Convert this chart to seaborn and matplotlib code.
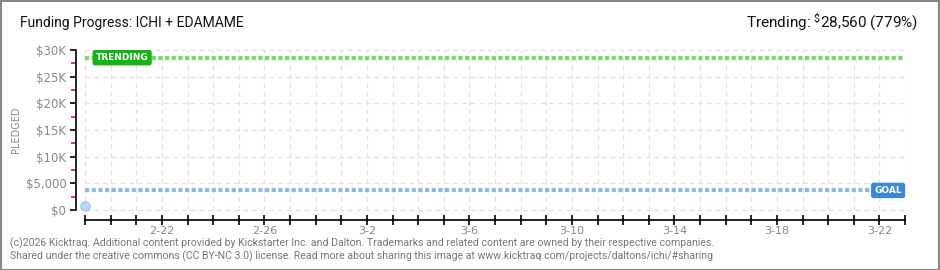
import matplotlib
matplotlib.use("Agg")
import matplotlib.pyplot as plt
import matplotlib.dates as mdates
import seaborn as sns
import pandas as pd
import numpy as np
from matplotlib.patches import Rectangle

# ---- data ----
dates = pd.to_datetime(["2026-02-19"])
pledged = [790]
goal = 3667
trending = 28560
trending_pct = 779
ytick_vals = [0, 5000, 10000, 15000, 20000, 25000, 30000]
ytick_labels = ["$0", "$5,000", "$10K", "$15K", "$20K", "$25K", "$30K"]
x_start = pd.Timestamp("2026-02-19")
x_end = pd.Timestamp("2026-03-23")
label_dates = pd.date_range("2026-02-22", "2026-03-22", freq="4D")
title = "Funding Progress: ICHI + EDAMAME"

sns.set_theme(style="white")
plt.rcParams['font.family'] = ['DejaVu Sans']
NARROW = ['Roboto', 'DejaVu Sans']

W, H = 940, 270
fig = plt.figure(figsize=(W / 100, H / 100), dpi=100)
fig.patch.set_facecolor("white")

ax_left, ax_right = 76, 905
ax_bottom, ax_top = 220, 45
ax = fig.add_axes([ax_left / W, (H - ax_bottom) / H, (ax_right - ax_left) / W, (ax_bottom - ax_top) / H])

px_per_day = 820 / 32
xoff = (85 - ax_left) / px_per_day
xs = mdates.date2num(x_start)
x0 = xs - xoff
x1 = mdates.date2num(x_end)
px_per_dollar = 160 / 30000
ylo = -(ax_bottom - 210) / px_per_dollar
yhi = 30000 + (50 - ax_top) / px_per_dollar

# grid
days = pd.date_range(x_start, x_end, freq="D")
for d in days:
    ax.plot([mdates.date2num(d)] * 2, [0, 30000], color="#e2e2e2", lw=0.9, ls=(0, (4, 3)), zorder=0)
for v in ytick_vals:
    ax.plot([xs, x1], [v, v], color="#e2e2e2", lw=0.9, ls=(0, (4, 3)), zorder=0)

# goal and trending lines
ax.plot([xs, x1], [trending, trending], color="#70e060", lw=3, ls=(0, (1, 0.6)), zorder=2)
ax.plot([xs, x1], [goal, goal], color="#90b8e4", lw=3, ls=(0, (1, 0.6)), zorder=2)

# data point
df = pd.DataFrame({"date": dates, "pledged": pledged})
sns.scatterplot(data=df, x="date", y="pledged", ax=ax, s=45, color="#bdd7f5",
                edgecolor="#9cc0ea", linewidth=0.8, zorder=3, legend=False)
ax.set_xlim(x0, x1)
ax.set_ylim(ylo, yhi)

# label boxes
ax.text(xs + 0.42, trending, "TRENDING", color="white", fontsize=6.5,
        fontweight="bold", va="center", ha="left", zorder=4,
        bbox=dict(boxstyle="round,pad=0.28,rounding_size=0.2", fc="#16b316", ec="#16b316"))
ax.text(x1 - 0.12, goal, "GOAL", color="white", fontsize=6.5, fontweight="bold",
        va="center", ha="right", zorder=4,
        bbox=dict(boxstyle="round,pad=0.28,rounding_size=0.2", fc="#3b87d6", ec="#3b87d6"))

# spines
for s in ["top", "right"]:
    ax.spines[s].set_visible(False)
ax.spines["left"].set_bounds(0, 30000)
ax.spines["bottom"].set_bounds(xs, x1)
for s in ["left", "bottom"]:
    ax.spines[s].set_color("black")
    ax.spines[s].set_linewidth(1.2)

ax.set_yticks(ytick_vals)
ax.set_yticklabels(ytick_labels)
ax.set_yticks(np.arange(2500, 30000, 5000), minor=True)
ax.tick_params(axis="y", which="major", length=4, width=1.2, color="black", direction="out",
               labelsize=8.5, labelcolor="#888888", pad=3, left=True)
ax.tick_params(axis="y", which="minor", length=3.5, width=1.2, color="#e02020", direction="out", left=True)

ax.set_xticks([mdates.date2num(d) for d in days], minor=True)
ax.set_xticks([mdates.date2num(d) for d in label_dates])
ax.set_xticklabels([f"{d.month}-{d.day}" for d in label_dates])
ax.tick_params(axis="x", which="both", length=7, width=1.2, color="black", direction="inout",
               labelsize=8, labelcolor="#888888", pad=1, bottom=True)
ax.set_xlabel("")
ax.set_ylabel("PLEDGED", fontsize=7, color="#888888")
ax.yaxis.set_label_coords(-(76 - 21) / (ax_right - ax_left), (ax_bottom - 130) / (ax_bottom - ax_top))

# titles
fig.text(20 / W, 1 - 23 / H, title, fontsize=10, color="#111111", va="center", ha="left",
         family=NARROW)
fig.text(918 / W, 1 - 22 / H, f"Trending: $\\mathregular{{^{{\\$}}}}${trending:,} ({trending_pct}%)",
         fontsize=11, color="#111111", va="center", ha="right", family=NARROW)

# footer
fig.text(10 / W, 1 - 243 / H,
         "(c)2026 Kicktraq. Additional content provided by Kickstarter Inc. and Dalton. Trademarks and related content are owned by their respective companies.",
         fontsize=7.6, color="#777777", va="center", ha="left", family=NARROW)
fig.text(10 / W, 1 - 256 / H,
         "Shared under the creative commons (CC BY-NC 3.0) license. Read more about sharing this image at www.kicktraq.com/projects/daltons/ichi/#sharing",
         fontsize=7.6, color="#777777", va="center", ha="left", family=NARROW)

# outer border
fig.patches.append(Rectangle((0.5 / W, 0.5 / H), 1 - 1.5 / W, 1 - 1.5 / H, transform=fig.transFigure,
                             fill=False, ec="#888888", lw=1.5))

fig.savefig("out.png", dpi=100, facecolor="white")
